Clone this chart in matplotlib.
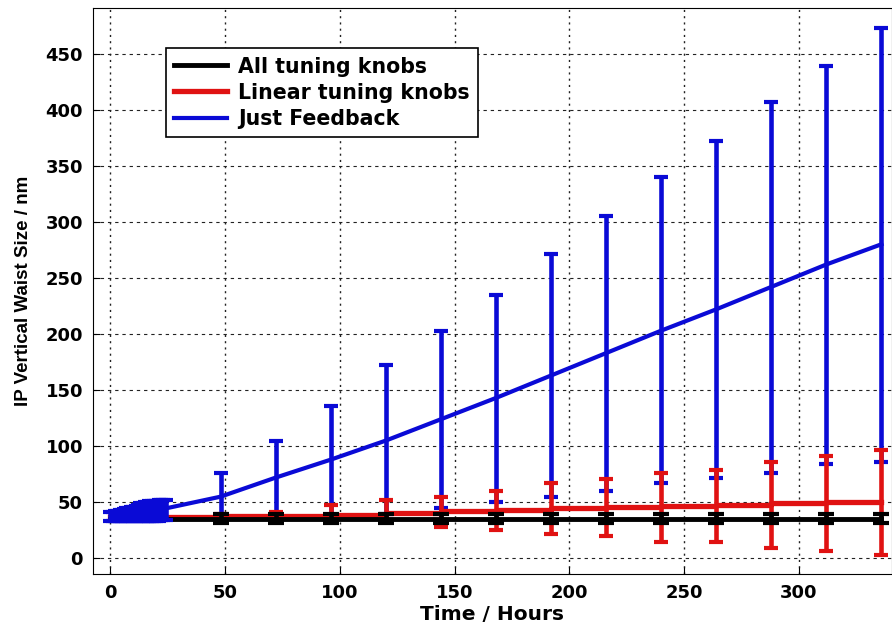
import numpy as np
import matplotlib
matplotlib.use('Agg')
import matplotlib.pyplot as plt

# Early hourly points (blue blob, first day)
early_hours = list(range(0, 25))
early_blue = [37, 37.2, 37.5, 37.7, 38, 38.2, 38.5, 38.8, 39, 39.3, 39.6, 39.9, 40.2,
              40.5, 40.8, 41.1, 41.4, 41.8, 42.1, 42.5, 42.9, 43.3, 43.7, 44.1, 44.5]
early_blue_hi = [41, 41.5, 42, 42.5, 43, 43.5, 44, 44.5, 45, 45.5, 46, 47, 48,
                 49, 49.5, 50, 50.5, 51, 51, 51.5, 51.5, 52, 52, 52, 52]
early_blue_lo = [33, 33, 33, 33, 33, 33, 33, 33, 33, 33, 33, 33, 33,
                 33, 33, 33, 33, 33, 33, 33.5, 33.5, 33.5, 34, 34, 34]

# Daily points
hours = [48, 72, 96, 120, 144, 168, 192, 216, 240, 264, 288, 312, 336]

blue = [55, 72, 88, 105, 124, 143, 163, 183, 203, 222, 242, 262, 280]
blue_hi = [76, 105, 136, 172, 203, 235, 271, 305, 340, 372, 407, 439, 473]
blue_lo = [37, 37, 37, 40, 45, 50, 55, 60, 67, 72, 76, 84, 86]

red_hours = [0, 24, 48, 72, 96, 120, 144, 168, 192, 216, 240, 264, 288, 312, 336]
red = [37, 37, 37, 37.5, 38, 39, 40.5, 42, 43, 45, 46, 47, 48, 49, 50]
red_hi = [40, 41, 48, 52, 55, 60, 67, 71, 76, 79, 86, 91, 97]
red_lo = [34, 34, 32, 32, 28, 25, 22, 20, 15, 15, 9, 7, 3]

black = [35.5] * len(red_hours)
black_err = 4.2

BLUE = '#0a0ad6'
RED = '#e01212'

plt.rcParams['font.family'] = 'DejaVu Sans'
plt.rcParams['font.weight'] = 'bold'

fig = plt.figure(figsize=(8.92, 6.24), dpi=100)
ax = fig.add_axes([0.104, 0.080, 0.896, 0.907])

eb = dict(elinewidth=3.3, capsize=5.2, capthick=3, linestyle='none')

# Just feedback
ax.plot(early_hours + hours, early_blue + blue, color=BLUE, lw=3, zorder=3,
        label='Just Feedback')
eh = np.array(early_blue)
ax.errorbar(early_hours, eh, yerr=[eh - np.array(early_blue_lo), np.array(early_blue_hi) - eh],
            color=BLUE, zorder=6, **eb)
bh = np.array(blue)
ax.errorbar(hours, bh, yerr=[bh - np.array(blue_lo), np.array(blue_hi) - bh],
            color=BLUE, zorder=3, **eb)

# Linear tuning knobs
ax.plot(red_hours, red, color=RED, lw=3.8, drawstyle='steps-pre', zorder=4,
        label='Linear tuning knobs')
rh = np.array(red[2:])
ax.errorbar(hours, rh, yerr=[rh - np.array(red_lo), np.array(red_hi) - rh],
            color=RED, zorder=4, **eb)

# All tuning knobs
ax.plot(red_hours, black, color='black', lw=3.5, zorder=5, label='All tuning knobs')
ax.errorbar(hours, black[2:], yerr=black_err, color='black', zorder=5,
            elinewidth=3.3, capsize=5.5, capthick=3, linestyle='none')

ax.set_xlim(-7.7, 340.6)
ax.set_ylim(-14, 490.5)
ax.set_xticks([0, 50, 100, 150, 200, 250, 300])
ax.set_yticks(range(0, 451, 50))
ax.tick_params(direction='in', length=5, labelsize=13, pad=7)
for lab in ax.get_xticklabels() + ax.get_yticklabels():
    lab.set_fontweight('bold')

ax.yaxis.grid(True, color='#222222', linestyle=(0, (3, 3.5)), lw=0.8)
ax.xaxis.grid(True, color='#222222', linestyle=(0, (1.5, 3)), lw=1.0)
ax.set_axisbelow(True)

ax.set_xlabel('Time / Hours', fontsize=14.5, fontweight='bold', labelpad=2)
ax.set_ylabel('IP Vertical Waist Size / nm', fontsize=13.5, fontweight='bold',
              family='Liberation Sans', labelpad=10)

handles, labels = ax.get_legend_handles_labels()
order = [2, 1, 0]
leg = ax.legend([handles[i] for i in order], [labels[i] for i in order],
                loc='upper left', bbox_to_anchor=(0.0914, 0.929), borderaxespad=0,
                fontsize=14.8, fancybox=False, edgecolor='black', framealpha=1,
                handlelength=2.6, handletextpad=0.5, labelspacing=0.3, borderpad=0.4)
leg.get_frame().set_linewidth(1.2)
for t in leg.get_texts():
    t.set_fontweight('bold')

fig.savefig('out.png', dpi=100)
